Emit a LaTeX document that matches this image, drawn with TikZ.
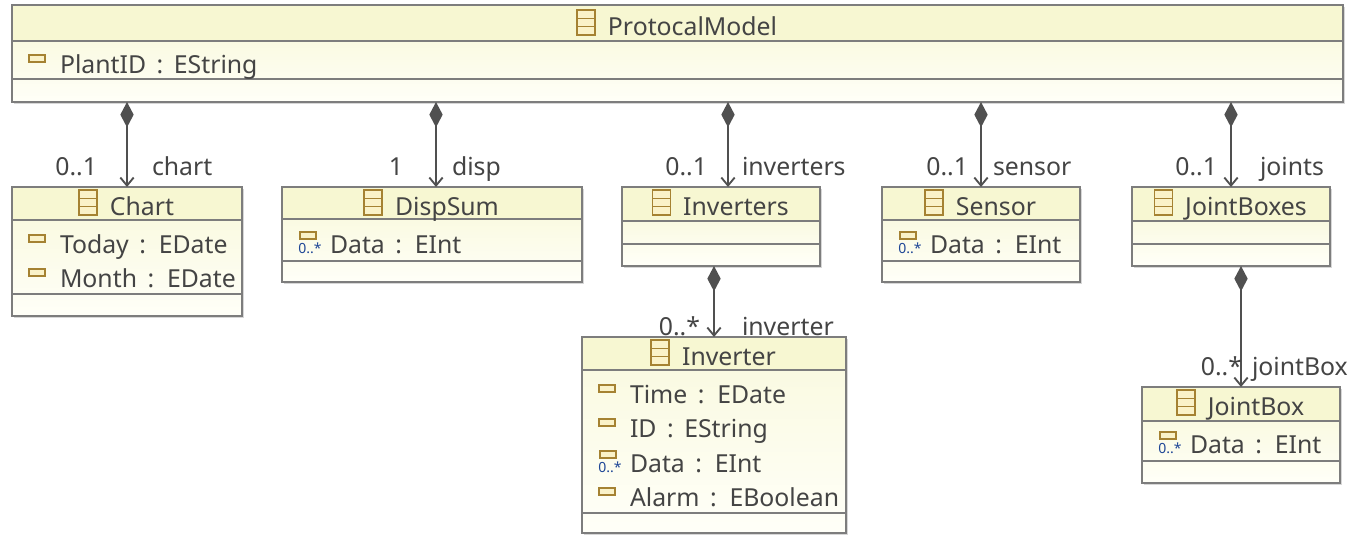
\documentclass[tikz,border=0pt]{standalone}
\usepackage{fontspec}
\setmainfont{Noto Sans}
\usetikzlibrary{arrows.meta,calc}
\definecolor{headc}{RGB}{247,247,210}
\definecolor{bodytop}{RGB}{250,250,226}
\definecolor{bodybot}{RGB}{255,255,248}
\definecolor{bordc}{RGB}{125,125,125}
\definecolor{txtc}{RGB}{68,68,68}
\definecolor{linec}{RGB}{80,80,80}
\definecolor{iconc}{RGB}{165,130,50}
\definecolor{iconfill}{RGB}{250,242,200}
\definecolor{multc}{RGB}{30,70,150}
\definecolor{shadc}{RGB}{215,215,215}
\tikzset{
  x=0.75pt, y=-0.75pt,
  every node/.style={font=\fontsize{18.6}{22}\selectfont, text=txtc, inner sep=0pt, outer sep=0pt},
  clsbox/.style={draw=bordc, line width=1.2pt, rectangle, inner sep=0pt, outer sep=0pt},
  sepline/.style={draw=bordc, line width=1.2pt},
  iconline/.style={draw=iconc, line width=1pt},
  comp/.style={draw=linec, line width=1.4pt,
    {Diamond[length=19pt,width=10pt,fill=linec]}-{Straight Barb[length=6pt,width=10pt]}},
  mult/.style={anchor=base east},
  role/.style={anchor=base west},
  attrtxt/.style={anchor=base west},
  multtxt/.style={font=\fontsize{10.5}{11}\selectfont\bfseries, text=multc},
}
% name, x1, y1, x2, y2, sep1, sep2, title, title baseline
\newcommand\umlcls[9]{%
  \fill[shadc] (#2+2,#3+2) rectangle (#4+2,#5+2);
  \fill[headc] (#2,#3) rectangle (#4,#6);
  \shade[top color=bodytop, bottom color=bodybot] (#2,#6) rectangle (#4,#5);
  \node[clsbox, anchor=north west, minimum width={(#4-#2)*0.75pt}, minimum height={(#5-#3)*0.75pt}] (#1) at (#2,#3) {};
  \draw[sepline] (#2,#6) -- (#4,#6);
  \draw[sepline] (#2,#7) -- (#4,#7);
  \node[anchor=base] (#1-t) at ({(#2+#4)/2+15},#9) {#8};
  \draw[iconline, fill=iconfill] ([xshift=-9.75pt]#1-t.base west) rectangle ([xshift=-23.25pt,yshift=18.75pt]#1-t.base west);
  \draw[iconline] ([xshift=-9.75pt,yshift=6.25pt]#1-t.base west) -- ([xshift=-23.25pt,yshift=6.25pt]#1-t.base west);
  \draw[iconline] ([xshift=-9.75pt,yshift=12.5pt]#1-t.base west) -- ([xshift=-23.25pt,yshift=12.5pt]#1-t.base west);
}
% name, box x1, baseline, text
\newcommand\umlattr[4]{%
  \draw[iconline, fill=iconfill] (#2+17,#3-18) rectangle (#2+33,#3-11);
  \node[attrtxt] (#1) at (#2+48,#3) {#4};
}
\newcommand\umlmattr[4]{%
  \draw[iconline, fill=iconfill] (#2+18,#3-21) rectangle (#2+34,#3-14);
  \node[multtxt] (#1-m) at (#2+28,#3-5) {0..*};
  \node[attrtxt] (#1) at (#2+48,#3) {#4};
}
\begin{document}
\begin{tikzpicture}
\useasboundingbox (0,0) rectangle (1349,536);

\umlcls{pm}{12}{5}{1343}{102}{41}{79}{ProtocalModel}{35}
\umlattr{pm-a1}{12}{73}{PlantID\, : \,EString}

\umlcls{chart}{12}{187}{242}{316}{220}{294}{Chart}{215}
\umlattr{chart-a1}{12}{253}{Today\, : \,EDate}
\umlattr{chart-a2}{12}{287}{Month\, : \,EDate}

\umlcls{disp}{282}{187}{582}{282}{219}{261}{DispSum}{215}
\umlmattr{disp-a1}{282}{253}{Data\, : \,EInt}

\umlcls{invs}{622}{187}{820}{266}{221}{244}{Inverters}{215}

\umlcls{sensor}{882}{187}{1080}{282}{220}{261}{Sensor}{215}
\umlmattr{sensor-a1}{882}{253}{Data\, : \,EInt}

\umlcls{jbs}{1132}{187}{1330}{266}{221}{244}{JointBoxes}{215}

\umlcls{inv}{582}{337}{846}{533}{370}{513}{Inverter}{365}
\umlattr{inv-a1}{582}{403}{Time\, : \,EDate}
\umlattr{inv-a2}{582}{437}{ID\, : \,EString}
\umlmattr{inv-a3}{582}{472}{Data\, : \,EInt}
\umlattr{inv-a4}{582}{506}{Alarm\, : \,EBoolean}

\umlcls{jb}{1142}{387}{1340}{483}{421}{461}{JointBox}{415}
\umlmattr{jb-a1}{1142}{453}{Data\, : \,EInt}

% connectors
\coordinate (dispin) at ([xshift=3pt]disp.north);
\coordinate (invsin) at ([xshift=5.25pt]invs.north);
\draw[comp] (pm.south -| chart.north) -- (chart.north);
\draw[comp] (pm.south -| dispin) -- (dispin);
\draw[comp] (pm.south -| invsin) -- (invsin);
\draw[comp] (pm.south -| sensor.north) -- (sensor.north);
\draw[comp] (pm.south -| jbs.north) -- (jbs.north);
\draw[comp] (invs.south -| inv.north) -- (inv.north);
\draw[comp] (jbs.south -| jb.north) -- (jb.north);

% labels
\node[mult] (l1m) at (97,175) {0..1};
\node[role] (l1r) at (152,175) {chart};
\node[mult] (l2m) at (403,175) {1};
\node[role] (l2r) at (452,175) {disp};
\node[mult] (l3m) at (707,175) {0..1};
\node[role] (l3r) at (742,175) {inverters};
\node[mult] (l4m) at (968,175) {0..1};
\node[role] (l4r) at (993,175) {sensor};
\node[mult] (l5m) at (1217,175) {0..1};
\node[role] (l5r) at (1260,175) {joints};
\node[mult] (l6m) at (700,335) {0..*};
\node[role] (l6r) at (742,335) {inverter};
\node[mult] (l7m) at (1242,375) {0..*};
\node[role] (l7r) at (1252,375) {jointBox};
\end{tikzpicture}
\end{document}
